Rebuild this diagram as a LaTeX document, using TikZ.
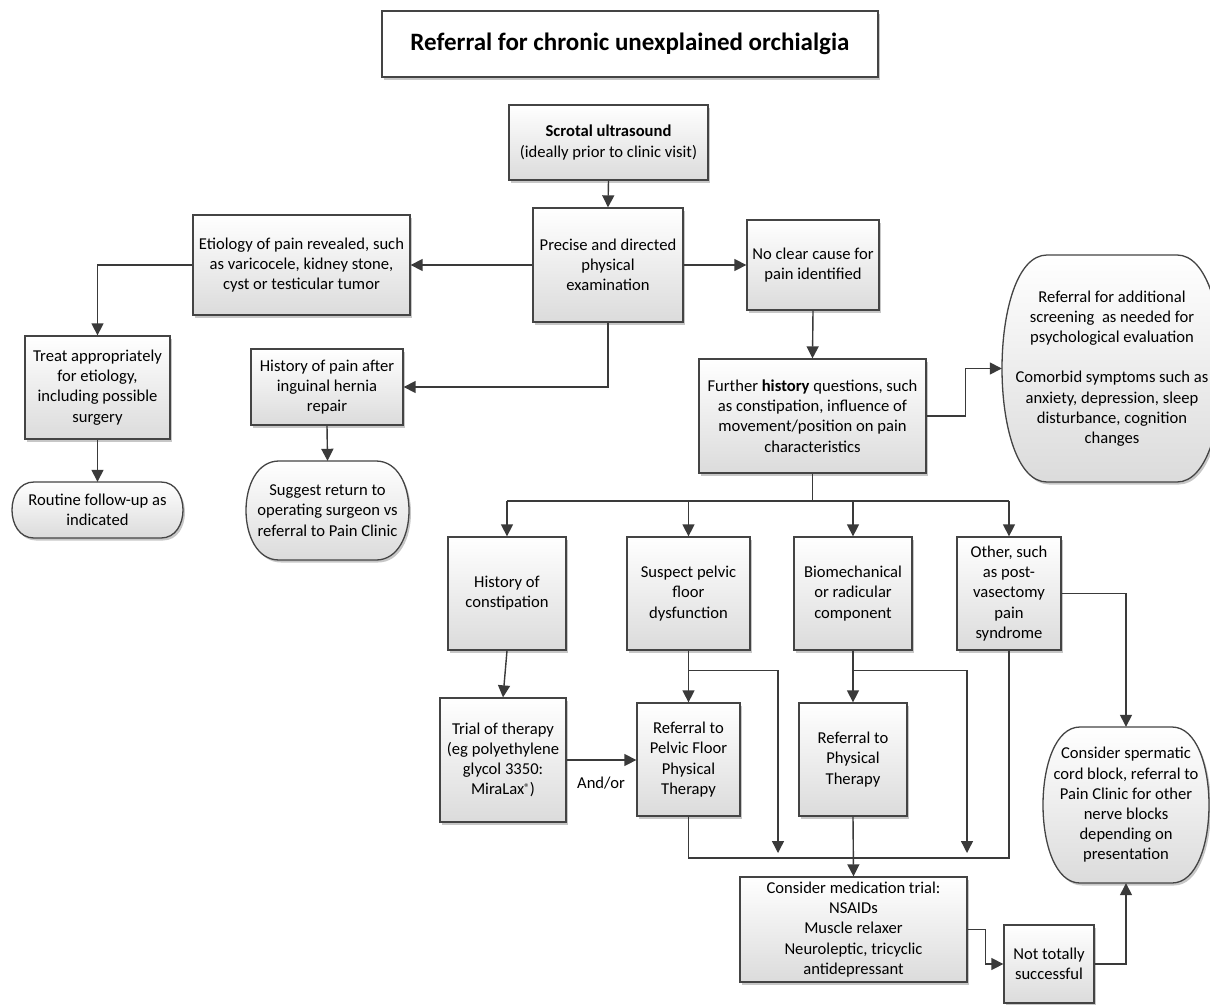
\documentclass[tikz,border=0pt]{standalone}
\usepackage{fontspec}
\setmainfont{Carlito}
\usetikzlibrary{arrows.meta,shadows,calc}
\definecolor{linec}{HTML}{3A3A3A}
\definecolor{borderc}{HTML}{444444}
\newcommand{\termbox}[7]{%
  \path[ovalshape]
    ({#2-#4/2+#6},{#3-#5/2}) -- ({#2+#4/2-#6},{#3-#5/2})
    .. controls ({#2+#4/2-#6+4*#6/3},{#3-#5/2}) and ({#2+#4/2-#6+4*#6/3},{#3+#5/2}) ..
    ({#2+#4/2-#6},{#3+#5/2}) -- ({#2-#4/2+#6},{#3+#5/2})
    .. controls ({#2-#4/2+#6-4*#6/3},{#3+#5/2}) and ({#2-#4/2+#6-4*#6/3},{#3-#5/2}) ..
    ({#2-#4/2+#6},{#3-#5/2}) -- cycle;
  \node[ovaltext,minimum width=#4,minimum height=#5] (#1) at (#2,#3) {#7};
}
\begin{document}
\begin{tikzpicture}[x=1pt,y=-1pt,
  every node/.style={font=\fontsize{16.6}{20.2}\selectfont},
  shadowed/.style={drop shadow={shadow xshift=2pt,shadow yshift=-2.5pt,opacity=0.22,fill=black}},
  box/.style={draw=borderc, line width=1.3pt, top color=white, bottom color=black!14,
    shadowed, align=center, inner sep=2pt},
  titlebox/.style={draw=borderc, line width=1.3pt, fill=white, shadowed, align=center, inner sep=2pt,
    font=\fontsize{25}{29}\selectfont\bfseries},
  ovalshape/.style={draw=borderc, line width=1.3pt, top color=white, bottom color=black!14, shadowed},
  ovaltext/.style={draw=none, fill=none, align=center, inner sep=0pt},
  line/.style={draw=linec, line width=1.4pt},
  arr/.style={line, -{Triangle[width=12pt,length=12pt]}},
  lbl/.style={inner sep=1pt}
]
\clip (0,0) rectangle (1210,1004);
\fill[white] (0,0) rectangle (1210,1004);

% title
\node[titlebox, minimum width=496, minimum height=66] (title) at (630,44) {Referral for chronic unexplained orchialgia};

% top part
\node[box, minimum width=199, minimum height=75] (scrotal) at (608.5,142.5) {\textbf{Scrotal ultrasound}\\(ideally prior to clinic visit)};
\node[box, minimum width=150, minimum height=114] (precise) at (608,265) {Precise and directed\\physical\\examination};
\node[box, minimum width=217, minimum height=100] (etiology) at (301.5,265) {Etiology of pain revealed, such\\as varicocele, kidney stone,\\cyst or testicular tumor};
\node[box, minimum width=132, minimum height=90] (noclear) at (813,265) {No clear cause for\\pain identified};
\node[box, minimum width=145, minimum height=103] (treat) at (97.5,387.5) {Treat appropriately\\for etiology,\\including possible\\surgery};
\termbox{routine}{97.5}{510}{171}{56}{22}{Routine follow-up as\\indicated}
\node[box, minimum width=152, minimum height=76] (histpain) at (327,387) {History of pain after\\inguinal hernia\\repair};
\termbox{suggest}{327.5}{510.5}{163}{99}{33}{Suggest return to\\operating surgeon vs\\referral to Pain Clinic}
\node[box, minimum width=227, minimum height=114] (further) at (812.5,416) {Further \textbf{history} questions, such\\as constipation, influence of\\movement/position on pain\\characteristics};
\termbox{referral}{1112}{368.5}{220}{227}{45}{Referral for additional\\screening\ \ as needed for\\psychological evaluation\\[20pt]Comorbid symptoms such as\\anxiety, depression, sleep\\disturbance, cognition\\changes}

% four branches
\node[box, minimum width=118, minimum height=113] (constip) at (507,593.5) {History of\\constipation};
\node[box, minimum width=123, minimum height=113] (suspect) at (688.5,593.5) {Suspect pelvic\\floor\\dysfunction};
\node[box, minimum width=118, minimum height=113] (biomech) at (853,593.5) {Biomechanical\\or radicular\\component};
\node[box, minimum width=104, minimum height=113] (other) at (1009,593.5) {Other, such\\as post-\\vasectomy\\pain\\syndrome};

% lower part
\node[box, minimum width=126, minimum height=124] (trial) at (503,760) {Trial of therapy\\(eg polyethylene\\glycol 3350:\\MiraLax\raisebox{0.45ex}{\fontsize{11}{11}\selectfont ®})};
\node[box, minimum width=103, minimum height=113] (pelvicref) at (688.5,759.5) {Referral to\\Pelvic Floor\\Physical\\Therapy};
\node[box, minimum width=108, minimum height=113] (physref) at (853,759.5) {Referral to\\Physical\\Therapy};
\node[box, minimum width=227, minimum height=105] (medication) at (853.5,929.5) {Consider medication trial:\\NSAIDs\\Muscle relaxer\\Neuroleptic, tricyclic\\antidepressant};
\node[box, minimum width=90, minimum height=78] (nottotally) at (1049,964) {Not totally\\successful};
\termbox{spermatic}{1126}{805}{166}{156}{37}{Consider spermatic\\cord block, referral to\\Pain Clinic for other\\nerve blocks\\depending on\\presentation}
\node[lbl] (andor) at (601,783) {And/or};

% coordinates
\coordinate (bar) at (812.5,501);
\coordinate (j1) at (778,853);
\coordinate (j2) at (967,853);
\coordinate (merge) at (853,858);

% connectors
\draw[arr] (scrotal.south) -- (precise.north);
\draw[arr] (precise.west) -- (etiology.east);
\draw[arr] (precise.east) -- (noclear.west);
\draw[arr] (etiology.west) -| (treat.north);
\draw[arr] (treat.south) -- (routine.north);
\draw[arr] (precise.south) |- (histpain.east);
\draw[arr] (histpain.south) -- (suggest.north);
\draw[arr] (noclear.south) -- (further.north);
\draw[arr] (further.east) -- ++(39,0) |- (referral.west);

\draw[line] (further.south) -- (bar);
\draw[line] (constip.north |- bar) -- (other.north |- bar);
\draw[arr] (constip.north |- bar) -- (constip.north);
\draw[arr] (suspect.north |- bar) -- (suspect.north);
\draw[arr] (biomech.north |- bar) -- (biomech.north);
\draw[arr] (other.north |- bar) -- (other.north);

\draw[arr] (constip.south) -- (trial.north);
\draw[arr] (trial.east) -- (trial.east -| pelvicref.west);
\draw[arr] (suspect.south) -- (pelvicref.north);
\draw[arr] ($(suspect.south)+(0,20)$) -| (j1);
\draw[arr] (biomech.south) -- (physref.north);
\draw[arr] ($(biomech.south)+(0,20)$) -| (j2);
\draw[line] (pelvicref.south) |- (merge);
\draw[line] (other.south) |- (merge);
\draw[arr] (physref.south) -- (medication.north);
\draw[arr] (other.east) -| (spermatic.north);
\draw[arr] (medication.east) -- ++(18,0) |- (nottotally.west);
\draw[arr] (nottotally.east) -| (spermatic.south);
\end{tikzpicture}
\end{document}
